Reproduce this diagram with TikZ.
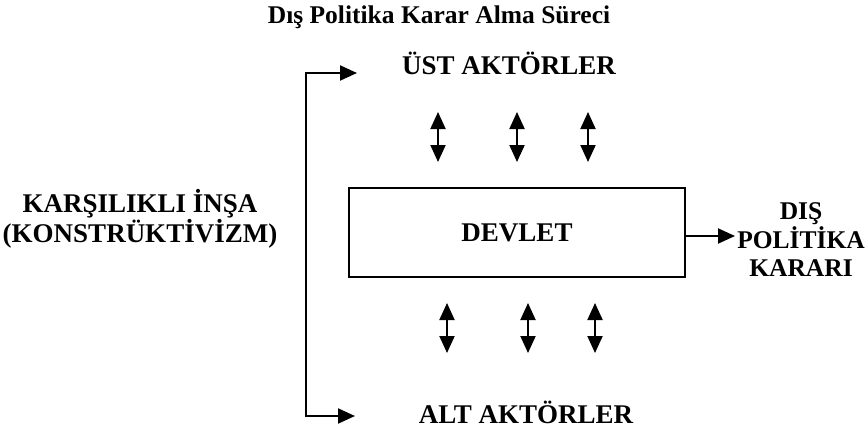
\documentclass[tikz,border=0pt]{standalone}
\usepackage{fontspec}
\setmainfont{Liberation Serif}
\usetikzlibrary{arrows.meta}
\begin{document}
\begin{tikzpicture}[x=1pt,y=-1pt,
  lbl/.style={font=\bfseries\fontsize{27}{30}\selectfont, inner sep=0pt, text=black},
  conn/.style={line width=2pt, -{Triangle[length=17pt,width=15pt]}},
  dbl/.style={line width=2pt, {Triangle[length=17pt,width=15pt]}-{Triangle[length=17pt,width=15pt]}},
  boxst/.style={draw, line width=2.5pt, minimum width=336pt, minimum height=89pt, inner sep=0pt,
    font=\bfseries\fontsize{27}{30}\selectfont, text=black}]
\useasboundingbox (0,0) rectangle (866,433);
% title
\node[lbl, anchor=base, font=\bfseries\fontsize{25.5}{28}\selectfont] (title) at (439,24) {Dış Politika Karar Alma Süreci};
% actors
\node[lbl, anchor=base] (ust) at (509,75) {ÜST AKTÖRLER};
\node[lbl, anchor=base] (alt) at (526,423) {ALT AKTÖRLER};
% state
\node[boxst] (devlet) at (517,232.5) {DEVLET};
% left text
\node[lbl, align=center] (insa) at (140,219) {KARŞILIKLI İNŞA\\(KONSTRÜKTİVİZM)};
% output text
\node[lbl, align=center, font=\bfseries\fontsize{25.5}{28.5}\selectfont] (karar) at (801,240) {DIŞ\\POLİTİKA\\KARARI};
% bracket
\coordinate (btop) at (306,73);
\coordinate (bbot) at (306,416);
\coordinate (ttip) at (357,73);
\coordinate (btip) at (355,416);
\draw[line width=2pt] (btop) -- (bbot);
\draw[conn] ([xshift=-1pt]btop) -- (ttip);
\draw[conn] ([xshift=-1pt]bbot) -- (btip);
% output arrow
\coordinate (otip) at (735,236);
\draw[conn] (devlet.east |- otip) -- (otip);
% upper double arrows
\foreach \x/\n in {438/a,517/b,588/c}{
  \coordinate (u\n1) at (\x,112);
  \coordinate (u\n2) at (\x,162);
  \draw[dbl] (u\n1) -- (u\n2);
}
% lower double arrows
\foreach \x/\n in {447/a,528/b,595/c}{
  \coordinate (l\n1) at (\x,303);
  \coordinate (l\n2) at (\x,353);
  \draw[dbl] (l\n1) -- (l\n2);
}
\end{tikzpicture}
\end{document}
